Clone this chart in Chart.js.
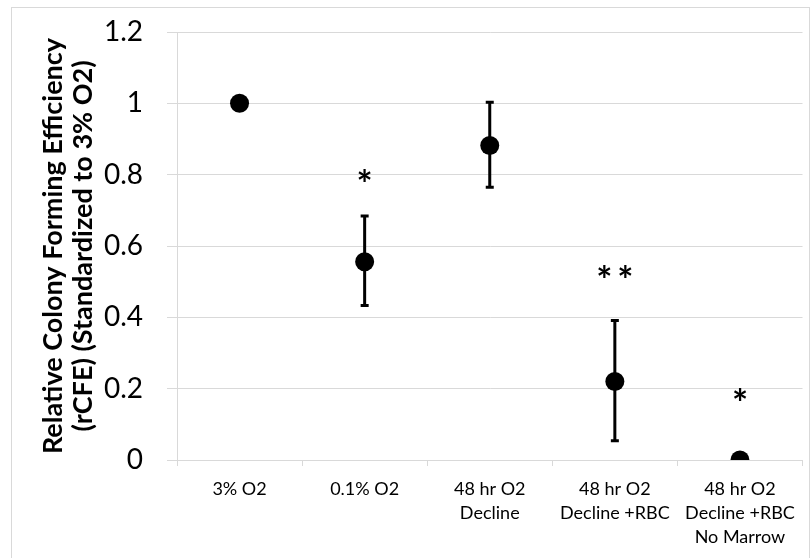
<!DOCTYPE html>
<html>
<head>
<meta charset="utf-8">
<script src="https://cdn.jsdelivr.net/npm/chart.js@4.4.1/dist/chart.umd.min.js"></script>
<style>
  html, body { margin: 0; padding: 0; background: #fff; }
  #wrap { position: relative; width: 812px; height: 558px; overflow: hidden; }
  #frame { position: absolute; left: 11px; top: 7px; width: 797px; height: 570px; border: 1px solid #d9d9d9; }
  canvas { position: absolute; left: 0; top: 0; }
</style>
</head>
<body>
<div id="wrap">
  <div id="frame"></div>
  <canvas id="chart" width="812" height="558"></canvas>
</div>
<script>
const categories = [
  ["3% O2"],
  ["0.1% O2"],
  ["48 hr O2", "Decline"],
  ["48 hr O2", "Decline +RBC"],
  ["48 hr O2", "Decline +RBC", "No Marrow"],
];
const rcfe = [1.0, 0.556, 0.882, 0.22, 0.0];
const errLow = [null, 0.433, 0.765, 0.054, null];
const errHigh = [null, 0.684, 1.003, 0.391, null];
const sigMarks = ["", "*", "", "**", "*"];
const sigY = [null, 0.800, null, 0.53, 0.185];
const yTicks = [0, 0.2, 0.4, 0.6, 0.8, 1, 1.2];

const FONT = "Lato, 'Open Sans', sans-serif";

// error bars and the significance stars, placed through the chart scales
const errorBars = {
  id: "errorBars",
  afterDatasetsDraw(chart) {
    const { ctx, scales } = chart;
    const x = scales.x, y = scales.y;
    ctx.save();
    ctx.strokeStyle = "#000";
    ctx.lineWidth = 3;
    errLow.forEach((lo, i) => {
      const hi = errHigh[i];
      if (lo == null || hi == null) return;
      const px = x.getPixelForValue(i);
      const yLo = y.getPixelForValue(lo);
      const yHi = y.getPixelForValue(hi);
      ctx.beginPath();
      ctx.moveTo(px, yLo);
      ctx.lineTo(px, yHi);
      ctx.moveTo(px - 4, yLo);
      ctx.lineTo(px + 4, yLo);
      ctx.moveTo(px - 4, yHi);
      ctx.lineTo(px + 4, yHi);
      ctx.stroke();
    });
    ctx.fillStyle = "#000";
    ctx.font = `bold 38px ${FONT}`;
    ctx.letterSpacing = "5px";
    ctx.textAlign = "center";
    ctx.textBaseline = "alphabetic";
    sigMarks.forEach((mark, i) => {
      if (!mark) return;
      const m = ctx.measureText(mark);
      const shift = (m.actualBoundingBoxAscent - m.actualBoundingBoxDescent) / 2;
      ctx.fillText(mark, x.getPixelForValue(i) + 2.5, y.getPixelForValue(sigY[i]) + shift);
    });
    ctx.restore();
  },
};

new Chart(document.getElementById("chart"), {
  type: "line",
  data: {
    labels: categories,
    datasets: [
      {
        data: rcfe,
        showLine: false,
        pointRadius: 9.5,
        pointHoverRadius: 9.5,
        pointBackgroundColor: "#000",
        pointBorderColor: "#000",
        pointBorderWidth: 0,
      },
    ],
  },
  options: {
    responsive: false,
    animation: false,
    // right padding is trimmed because the layout keeps ~6px of its own there
    layout: { padding: { top: 32, right: -2.5, left: 0, bottom: 0 } },
    plugins: {
      legend: { display: false },
      tooltip: { enabled: false },
    },
    scales: {
      x: {
        offset: true,
        grid: {
          offset: true,
          drawOnChartArea: false,
          drawTicks: true,
          tickLength: 6,
          color: "#d9d9d9",
        },
        border: { color: "#d9d9d9" },
        ticks: {
          color: "#000",
          font: { family: FONT, size: 18, lineHeight: 1.333 },
          padding: 11,
          maxRotation: 0,
          autoSkip: false,
        },
        afterFit(scale) {
          scale.height = 98;
          scale.paddingLeft = 0;
          scale.paddingRight = 0;
        },
      },
      y: {
        min: 0,
        max: 1.2,
        afterBuildTicks(scale) {
          scale.ticks = yTicks.map((v) => ({ value: v }));
        },
        grid: { color: "#d9d9d9", tickLength: 10 },
        border: { color: "#d9d9d9" },
        ticks: {
          color: "#000",
          font: { family: FONT, size: 28 },
          padding: 24,
          callback: (v) => String(Math.round(v * 10) / 10),
        },
        title: {
          display: true,
          text: ["Relative Colony Forming Efficiency", "(rCFE) (Standardized to 3% O2)"],
          color: "#000",
          font: { family: FONT, size: 27, weight: "bold", lineHeight: 1.11 },
          padding: { top: 38, bottom: 0 },
        },
        afterFit(scale) {
          scale.width = 177;
          // let the layout padding alone decide the plot top
          scale.paddingTop = 0;
          scale.paddingBottom = 0;
        },
      },
    },
  },
  plugins: [errorBars],
});
</script>
</body>
</html>
